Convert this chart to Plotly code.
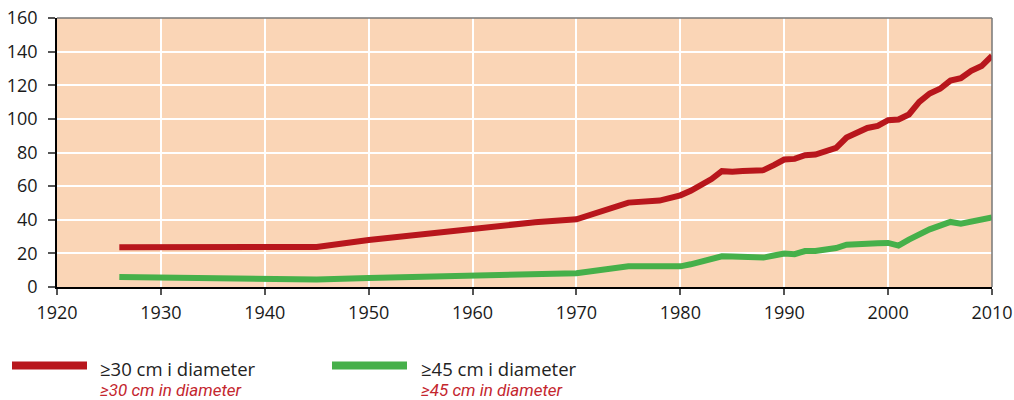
import plotly.graph_objects as go

years_30 = [1926, 1930, 1940, 1945, 1950, 1960, 1963, 1966, 1970, 1975, 1978, 1979, 1980, 1981, 1982, 1983,
            1984, 1985, 1986, 1987, 1988, 1989, 1990, 1991, 1992, 1993, 1994, 1995, 1996, 1997, 1998, 1999,
            2000, 2001, 2002, 2003, 2004, 2005, 2006, 2007, 2008, 2009, 2010]
vals_30 = [23.6, 23.7, 23.7, 23.8, 28.0, 34.8, 37.2, 38.5, 40.3, 50.2, 51.4, 52.5, 54.5, 57.2, 60.5, 64.2,
           68.9, 68.5, 69.0, 69.7, 69.5, 72.5, 75.8, 76.2, 78.4, 78.8, 80.4, 82.7, 88.9, 91.9, 94.6, 95.8,
           99.2, 99.6, 102.6, 110.1, 115.1, 117.9, 122.8, 124.2, 128.6, 131.4, 137.5]

years_45 = [1926, 1930, 1940, 1945, 1950, 1960, 1970, 1975, 1978, 1980, 1981, 1982, 1983, 1984, 1985, 1986,
            1987, 1988, 1989, 1990, 1991, 1992, 1993, 1994, 1995, 1996, 1997, 1998, 1999, 2000, 2001, 2002,
            2003, 2004, 2005, 2006, 2007, 2008, 2009, 2010]
vals_45 = [5.9, 5.6, 4.9, 4.5, 5.3, 6.8, 8.2, 12.3, 11.8, 12.3, 13.5, 14.8, 16.3, 18.3, 18.1, 18.1,
           17.9, 17.5, 18.7, 19.9, 19.5, 21.4, 21.4, 22.2, 23.2, 25.2, 25.2, 25.2, 26.0, 26.2, 24.6, 28.2,
           31.4, 34.3, 36.5, 38.7, 37.7, 38.9, 39.3, 41.3]

series_names = ["≥30 cm i diameter", "≥45 cm i diameter"]
series_names_en = ["≥30 cm in diameter", "≥45 cm in diameter"]
x_ticks = [1920, 1930, 1940, 1950, 1960, 1970, 1980, 1990, 2000, 2010]
y_ticks = [0, 20, 40, 60, 80, 100, 120, 140, 160]

RED = "#B8161C"
GREEN = "#46B04A"
TEXT_RED = "#C4262E"

fig = go.Figure()
fig.add_trace(go.Scatter(x=years_30, y=vals_30, mode="lines", name=series_names[0],
                         line=dict(color=RED, width=6), showlegend=False))
fig.add_trace(go.Scatter(x=years_45, y=vals_45, mode="lines", name=series_names[1],
                         line=dict(color=GREEN, width=6), showlegend=False))

L, R, T, B = 57, 22, 18, 113
W, H = 1014, 400
pw = W - L - R
ph = H - T - B

def px(x):
    return (x - L) / pw

def py(y):
    return (H - B - y) / ph

fig.update_layout(
    width=W, height=H,
    margin=dict(l=L, r=R, t=T, b=B, autoexpand=False),
    paper_bgcolor="white",
    plot_bgcolor="#FAD5B6",
    font=dict(family="Open Sans, DejaVu Sans, sans-serif", size=18, color="#1a1a1a"),
    xaxis=dict(range=[1920, 2010], tickvals=x_ticks, showgrid=True, gridcolor="white", gridwidth=1.5,
               showline=True, linecolor="black", linewidth=1.5, ticks="outside", ticklen=6,
               tickcolor="#555", tickwidth=1.5, zeroline=False, tickfont=dict(size=18),
               ticklabelstandoff=3),
    yaxis=dict(range=[0, 160], tickvals=y_ticks, showgrid=True, gridcolor="white", gridwidth=1.5,
               showline=True, linecolor="black", linewidth=1.5, ticks="outside", ticklen=7,
               tickcolor="#555", tickwidth=1.5, zeroline=False, tickfont=dict(size=18),
               ticklabelstandoff=7),
)

# top and right frame lines
fig.add_shape(type="line", xref="paper", yref="paper", x0=0, x1=1, y0=1, y1=1,
              line=dict(color="#777", width=1.5))
fig.add_shape(type="line", xref="paper", yref="paper", x0=1, x1=1, y0=0, y1=1,
              line=dict(color="#777", width=1.5))

# custom legend
legend_items = [(12, 87, 98, RED), (332, 407, 419, GREEN)]
for i, (x0, x1, tx, col) in enumerate(legend_items):
    fig.add_shape(type="line", xref="paper", yref="paper", x0=px(x0), x1=px(x1),
                  y0=py(365.5), y1=py(365.5), line=dict(color=col, width=8))
    fig.add_annotation(xref="paper", yref="paper", x=px(tx), y=py(369), xanchor="left",
                       yanchor="middle", showarrow=False, text=series_names[i],
                       font=dict(family="Open Sans, sans-serif", size=18.5, color="#222"))
    fig.add_annotation(xref="paper", yref="paper", x=px(tx), y=py(390), xanchor="left",
                       yanchor="middle", showarrow=False, text="<i>" + series_names_en[i] + "</i>",
                       font=dict(family="Roboto, sans-serif", size=17, color=TEXT_RED))

fig.write_html("out.html", config={"displayModeBar": False},
               post_script="document.body.style.margin='0';document.body.style.overflow='hidden';")
